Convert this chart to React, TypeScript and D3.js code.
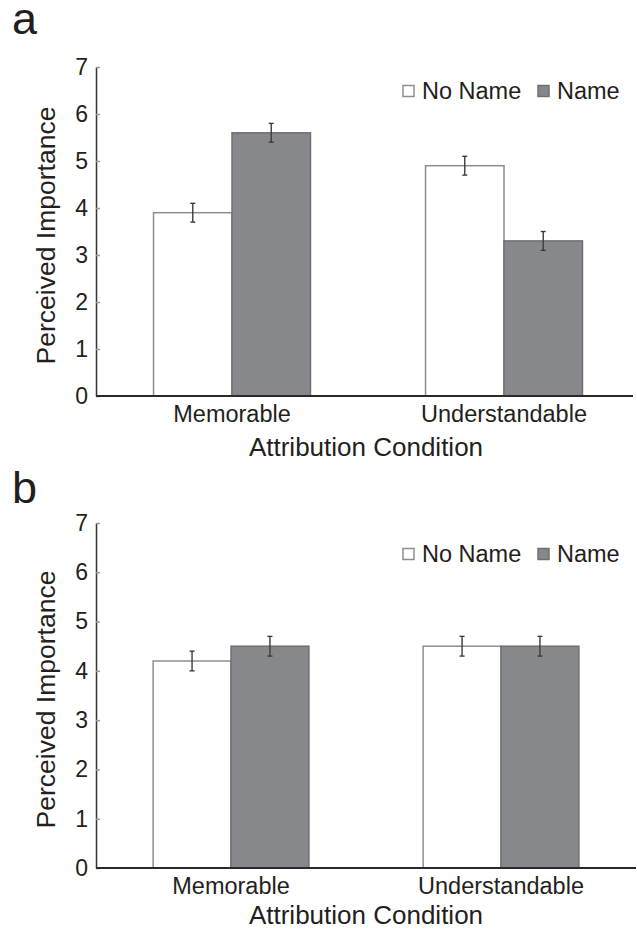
import React, { useEffect, useRef } from 'react';
import * as d3 from 'd3';

// chart data
const categories = ['Memorable', 'Understandable'];
const seriesNames = ['No Name', 'Name'];
const yTicks = [0, 1, 2, 3, 4, 5, 6, 7];

const panelANoName = [3.9, 4.9];
const panelAName = [5.6, 3.3];
const panelANoNameErr = [0.2, 0.2];
const panelANameErr = [0.2, 0.2];

const panelBNoName = [4.2, 4.5];
const panelBName = [4.5, 4.5];
const panelBNoNameErr = [0.2, 0.2];
const panelBNameErr = [0.2, 0.2];

const FONT = '"Liberation Sans", Arial, Helvetica, sans-serif';
const TEXT = '#231f20';
const DARK_BAR = '#87888b';

function App() {
  const ref = useRef<SVGSVGElement | null>(null);

  useEffect(() => {
    drawChart();
  });

  function drawChart() {
    const width = 637;
    const height = 931;

    const svg = d3.select(ref.current);
    svg.selectAll('*').remove();
    svg.attr('width', width).attr('height', height).style('background', 'white');

    const panels = [
      { letter: 'a', letterY: 34, top: 67, bottom: 396, xRange: [96, 640], axisEnd: 633, legendY: 91, titleOffset: 60,
        noName: panelANoName, name: panelAName, noNameErr: panelANoNameErr, nameErr: panelANameErr },
      { letter: 'b', letterY: 503, top: 523, bottom: 868, xRange: [96, 636], axisEnd: 636, legendY: 554, titleOffset: 56,
        noName: panelBNoName, name: panelBName, noNameErr: panelBNoNameErr, nameErr: panelBNameErr },
    ];

    panels.forEach(p => drawPanel(p));

    function drawPanel(p: any) {
      const g = svg.append('g');

      const yScale = d3.scaleLinear().domain([0, 7]).range([p.bottom, p.top]);
      const x0 = d3.scaleBand().domain(categories).range(p.xRange).padding(0);
      const groupW = x0.bandwidth() * 0.577;
      const x1 = d3.scaleBand().domain(seriesNames).range([-groupW / 2, groupW / 2]).padding(0);

      // panel letter
      g.append('text')
        .attr('x', 12)
        .attr('y', p.letterY)
        .style('font-family', FONT)
        .style('font-size', '45px')
        .attr('fill', TEXT)
        .text(p.letter);

      // bars
      const rows = categories.map((c, i) => ({
        cat: c,
        values: [
          { s: 'No Name', v: p.noName[i], e: p.noNameErr[i] },
          { s: 'Name', v: p.name[i], e: p.nameErr[i] },
        ],
      }));

      const grp = g.selectAll('.grp')
        .data(rows)
        .enter()
        .append('g')
        .attr('transform', (d: any) => `translate(${x0(d.cat)! + x0.bandwidth() / 2},0)`);

      grp.selectAll('rect')
        .data((d: any) => d.values)
        .enter()
        .append('rect')
        .attr('x', (d: any) => x1(d.s)!)
        .attr('y', (d: any) => yScale(d.v))
        .attr('width', x1.bandwidth())
        .attr('height', (d: any) => yScale(0) - yScale(d.v))
        .attr('fill', (d: any) => (d.s === 'Name' ? DARK_BAR : 'white'))
        .attr('stroke', (d: any) => (d.s === 'Name' ? '#6f7073' : '#8e8e8e'))
        .attr('stroke-width', 1.5);

      // error bars
      const eb = grp.selectAll('.eb')
        .data((d: any) => d.values)
        .enter()
        .append('g')
        .attr('transform', (d: any) => `translate(${x1(d.s)! + x1.bandwidth() / 2},0)`);

      eb.append('line')
        .attr('x1', 0).attr('x2', 0)
        .attr('y1', (d: any) => yScale(d.v - d.e))
        .attr('y2', (d: any) => yScale(d.v + d.e))
        .attr('stroke', '#3c3c3c')
        .attr('stroke-width', 1.4);
      [-1, 1].forEach(sign => {
        eb.append('line')
          .attr('x1', -2.5).attr('x2', 2.5)
          .attr('y1', (d: any) => yScale(d.v + sign * d.e))
          .attr('y2', (d: any) => yScale(d.v + sign * d.e))
          .attr('stroke', '#3c3c3c')
          .attr('stroke-width', 1.4);
      });

      // y axis
      const yAxis = d3.axisLeft(yScale)
        .tickValues(yTicks)
        .tickFormat(d3.format('d') as any)
        .tickSize(-4)
        .tickSizeOuter(0)
        .tickPadding(8);

      const ya = g.append('g')
        .attr('transform', `translate(${p.xRange[0]},0)`)
        .call(yAxis);
      ya.select('.domain').attr('stroke', '#333').attr('stroke-width', 1.5);
      ya.selectAll('.tick line').attr('stroke', '#9a9a9a').attr('stroke-width', 1.5);
      ya.selectAll('.tick text')
        .style('font-family', FONT)
        .style('font-size', '23px')
        .attr('fill', TEXT);

      // x axis
      const xAxis = d3.axisBottom(x0).tickSize(0).tickPadding(0);
      const xa = g.append('g')
        .attr('transform', `translate(0,${p.bottom})`)
        .call(xAxis);
      xa.select('.domain').remove();
      xa.selectAll('.tick text')
        .attr('dy', null)
        .attr('y', 25.5)
        .style('font-family', FONT)
        .style('font-size', '23.5px')
        .attr('fill', TEXT);

      g.append('line')
        .attr('x1', p.xRange[0])
        .attr('x2', p.axisEnd)
        .attr('y1', p.bottom)
        .attr('y2', p.bottom)
        .attr('stroke', '#2a2a2a')
        .attr('stroke-width', 2);

      // axis titles
      g.append('text')
        .attr('x', 366)
        .attr('y', p.bottom + p.titleOffset)
        .attr('text-anchor', 'middle')
        .style('font-family', FONT)
        .style('font-size', '26px')
        .attr('fill', TEXT)
        .text('Attribution Condition');

      g.append('text')
        .attr('transform', `translate(55,${(p.top + p.bottom) / 2 + 4}) rotate(-90)`)
        .attr('text-anchor', 'middle')
        .style('font-family', FONT)
        .style('font-size', '26.5px')
        .attr('fill', TEXT)
        .text('Perceived Importance');

      // legend
      const legendX = [403, 538];
      seriesNames.forEach((s, i) => {
        g.append('rect')
          .attr('x', legendX[i])
          .attr('y', p.legendY - 5.5)
          .attr('width', 11)
          .attr('height', 11)
          .attr('fill', s === 'Name' ? DARK_BAR : 'white')
          .attr('stroke', s === 'Name' ? '#6f7073' : '#8e8e8e')
          .attr('stroke-width', 1.5);
        g.append('text')
          .attr('x', legendX[i] + 19)
          .attr('y', p.legendY + 7.5)
          .style('font-family', FONT)
          .style('font-size', '23.5px')
          .attr('fill', TEXT)
          .text(s);
      });
    }
  }

  return (
    <div style={{ position: 'absolute', left: 0, top: 0 }}>
      <svg ref={ref} />
    </div>
  );
}

export default App;
